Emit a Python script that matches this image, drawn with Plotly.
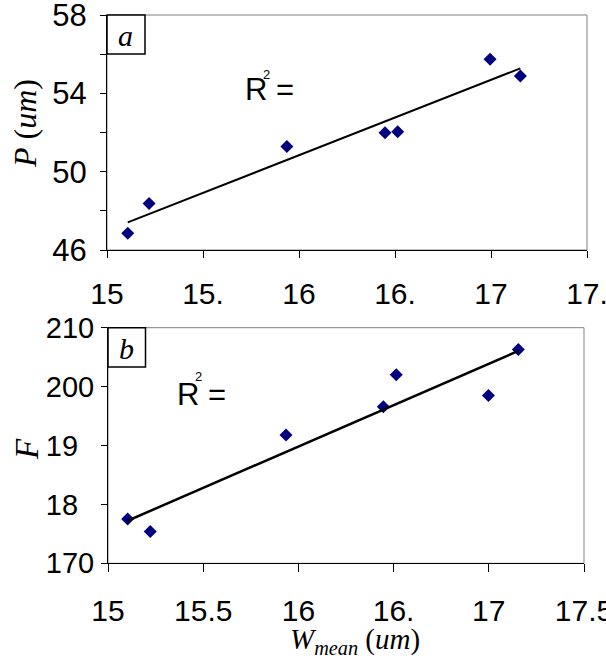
import numpy as np
import plotly.graph_objects as go

W = 606
H = 666

# ---- data ----
w_mean_a = [15.108, 15.219, 15.937, 16.448, 16.514, 16.995, 17.153]
p_um = [46.85, 48.38, 51.28, 51.99, 52.04, 55.74, 54.89]

w_mean_b = [15.103, 15.222, 15.935, 16.446, 16.514, 16.998, 17.155]
f_val = [177.5, 175.4, 191.8, 196.6, 202.0, 198.5, 206.3]

x_tickvals = [15, 15.5, 16, 16.5, 17, 17.5]
x_ticktext_a = ["15", "15.", "16", "16.", "17", "17."]
x_ticktext_b = ["15", "15.5", "16", "16.", "17", "17.5"]
y_tickvals_a = [46, 50, 54, 58]
y_ticktext_a = ["46", "50", "54", "58"]
y_tickvals_b = [170, 180, 190, 200, 210]
y_ticktext_b = ["170", "18\u2007", "19\u2007", "200", "210"]

NAVY = "#000080"
SANS = "Liberation Sans, Arial, sans-serif"
SERIF = "Liberation Serif, Times New Roman, serif"


def px_x(p):
    return p / W


def px_y(p):
    return 1 - p / H


def fit_line(x, y):
    k, b = np.polyfit(x, y, 1)
    xs = np.array([min(x), max(x)])
    return xs, k * xs + b


fig = go.Figure()

fig.add_trace(go.Scatter(x=w_mean_a, y=p_um, mode="markers",
                         marker=dict(symbol="diamond", size=10, color=NAVY),
                         xaxis="x", yaxis="y", showlegend=False))
lx, ly = fit_line(w_mean_a, p_um)
fig.add_trace(go.Scatter(x=lx, y=ly, mode="lines", line=dict(color="black", width=2),
                         xaxis="x", yaxis="y", showlegend=False))

fig.add_trace(go.Scatter(x=w_mean_b, y=f_val, mode="markers",
                         marker=dict(symbol="diamond", size=10, color=NAVY),
                         xaxis="x2", yaxis="y2", showlegend=False))
lx2, ly2 = fit_line(w_mean_b, f_val)
fig.add_trace(go.Scatter(x=lx2, y=ly2, mode="lines", line=dict(color="black", width=2.5),
                         xaxis="x2", yaxis="y2", showlegend=False))

# plot areas (pixels)
A = dict(x0=107, x1=587, y0=15, y1=250)
B = dict(x0=108, x1=584, y0=327.7, y1=563.3)

axis_common = dict(showgrid=False, zeroline=False, showline=True, linecolor="black",
                   linewidth=1, ticks="outside", tickcolor="black", tickwidth=1,
                   automargin=False, fixedrange=True, ticklabeloverflow="allow")

fig.update_layout(
    width=W, height=H, template="none",
    margin=dict(l=0, r=0, t=0, b=0),
    paper_bgcolor="white", plot_bgcolor="white",
    xaxis=dict(axis_common, domain=[px_x(A["x0"]), px_x(A["x1"])], range=[15, 17.5],
               tickvals=x_tickvals, ticktext=x_ticktext_a, ticklen=7,
               ticklabelstandoff=10,
               tickfont=dict(family=SANS, size=30, color="black"), anchor="y"),
    yaxis=dict(axis_common, domain=[px_y(A["y1"]), px_y(A["y0"])], range=[46, 58],
               tickvals=y_tickvals_a, ticktext=y_ticktext_a, ticklen=6,
               ticklabelstandoff=7,
               minor=dict(tick0=46, dtick=2, ticks="outside", ticklen=6,
                          tickcolor="black", tickwidth=1, showgrid=False),
               tickfont=dict(family=SANS, size=31, color="black"), anchor="x"),
    xaxis2=dict(axis_common, domain=[px_x(B["x0"]), px_x(B["x1"])], range=[15, 17.5],
                tickvals=x_tickvals, ticktext=x_ticktext_b, ticklen=8,
                ticklabelstandoff=13,
                tickfont=dict(family=SANS, size=30, color="black"), anchor="y2"),
    yaxis2=dict(axis_common, domain=[px_y(B["y1"]), px_y(B["y0"])], range=[170, 210],
                tickvals=y_tickvals_b, ticktext=y_ticktext_b, ticklen=6,
                ticklabelstandoff=1,
                tickfont=dict(family=SANS, size=29, color="black"), anchor="x2"),
)

shapes = []
for P in (A, B):
    shapes.append(dict(type="rect", xref="paper", yref="paper",
                       x0=px_x(P["x0"]), x1=px_x(P["x1"]),
                       y0=px_y(P["y1"]), y1=px_y(P["y0"]),
                       line=dict(color="#808080", width=1), layer="below"))
# label boxes
shapes.append(dict(type="rect", xref="paper", yref="paper",
                   x0=px_x(107), x1=px_x(145), y0=px_y(54), y1=px_y(15),
                   line=dict(color="black", width=1.5), fillcolor="white"))
shapes.append(dict(type="rect", xref="paper", yref="paper",
                   x0=px_x(108), x1=px_x(145.5), y0=px_y(367), y1=px_y(327.7),
                   line=dict(color="black", width=1.5), fillcolor="white"))
fig.update_layout(shapes=shapes)

ann = []


def add_text(text, x, y, size, family, xanchor="center", yanchor="middle", angle=0):
    ann.append(dict(text=text, x=px_x(x), y=px_y(y), xref="paper", yref="paper",
                    xanchor=xanchor, yanchor=yanchor, showarrow=False, textangle=angle,
                    font=dict(family=family, size=size, color="black")))


add_text("<i>a</i>", 125.5, 35.5, 30, SERIF)
add_text("<i>b</i>", 126, 348, 30, SERIF)
add_text("R =", 243, 89, 31, SANS, xanchor="left")
add_text("2", 266.5, 75, 13, SANS)
add_text("R =", 175, 394, 31, SANS, xanchor="left")
add_text("2", 198.5, 376.5, 13, SANS)
add_text("<i>P</i> (<i>um</i>)", 25, 124, 32, SERIF, angle=-90)
add_text("<i>F</i>", 27, 449, 33, SERIF, angle=-90)
add_text("<i>W</i><sub><i>mean</i></sub> (<i>um</i>)", 355, 641, 29, SERIF)
fig.update_layout(annotations=ann)

fig.write_html("out.html")
